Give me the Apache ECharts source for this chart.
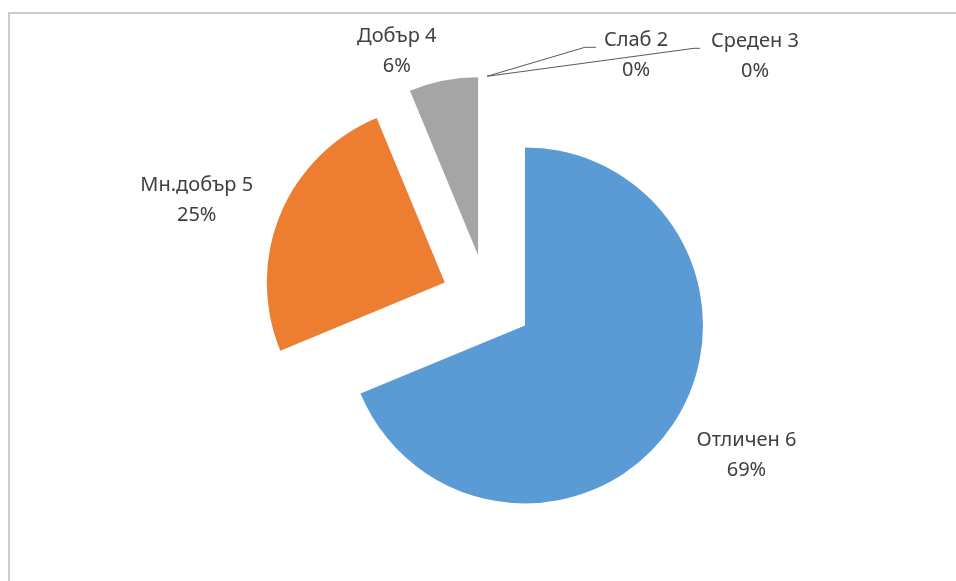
<!DOCTYPE html>
<html>
<head>
<meta charset="utf-8">
<script src="https://cdn.jsdelivr.net/npm/echarts@6/dist/echarts.min.js"></script>
<style>
html,body{margin:0;padding:0;background:#fff;}
#chart{width:956px;height:581px;}
</style>
</head>
<body>
<div id="chart"></div>
<script>
// Data (counts of grades); zero-value slices first so they sit at 12 o'clock
const categories = ['Слаб 2', 'Среден 3', 'Отличен 6', 'Мн.добър 5', 'Добър 4'];
const counts = [0, 0, 11, 4, 1];
const colors = ['#FFC000', '#4472C4', '#5B9BD5', '#ED7D31', '#A5A5A5'];

// per-label placement tuning (label line lengths / offsets)
const labelTune = [
  { len: 29, len2: -109, dist: -95, turn: 163.5, line: true, pad: [16, 0, 0, 0], key: 'z' },
  { len: 28, len2: -213, dist: -110, turn: 172.3, line: true, pad: [16, 0, 0, 0], key: 'z' },
  { len: 56, len2: 0, dist: -23, line: false, pad: 0, key: 't' },
  { len: 37, len2: 0, dist: -7, line: false, pad: 0, key: 't' },
  { len: 30, len2: 0, dist: 1, line: false, pad: 0, key: 't' }
];

const chart = echarts.init(document.getElementById('chart'), null, { renderer: 'canvas' });

const data = categories.map((name, i) => {
  const t = labelTune[i];
  return {
    name: name,
    value: counts[i],
    selected: true,
    itemStyle: { color: colors[i] },
    label: {
      distanceToLabelLine: t.dist,
      padding: t.pad,
      formatter: '{' + t.key + '|{b}}\n{' + t.key + '|{d}%}'
    },
    labelLine: {
      show: t.line,
      length: t.len,
      length2: t.len2,
      minTurnAngle: t.turn || 90,
      maxSurfaceAngle: 90,
      lineStyle: { color: '#595959', width: 1 }
    }
  };
});

const textStyle = {
  fontFamily: 'Noto Sans',
  fontSize: 20,
  lineHeight: 30,
  color: '#404040',
  align: 'center'
};

const option = {
  animation: false,
  backgroundColor: '#ffffff',
  graphic: [{
    type: 'rect',
    shape: { x: 9, y: 13, width: 1200, height: 1000 },
    style: { fill: 'none', stroke: '#cccccc', lineWidth: 2 },
    silent: true,
    z: -10
  }],
  series: [{
    type: 'pie',
    center: [487, 300],
    radius: [0, 178],
    startAngle: 90,
    clockwise: true,
    selectedMode: 'multiple',
    selectedOffset: 45.7,
    avoidLabelOverlap: false,
    percentPrecision: 0,
    minShowLabelAngle: 0,
    itemStyle: { borderWidth: 0 },
    emphasis: { disabled: true },
    labelLayout: { hideOverlap: false },
    label: {
      show: true,
      position: 'outside',
      color: '#404040',
      rich: {
        t: textStyle,
        z: Object.assign({}, textStyle, { width: 110 })
      }
    },
    data: data
  }]
};
chart.setOption(option);
</script>
</body>
</html>
